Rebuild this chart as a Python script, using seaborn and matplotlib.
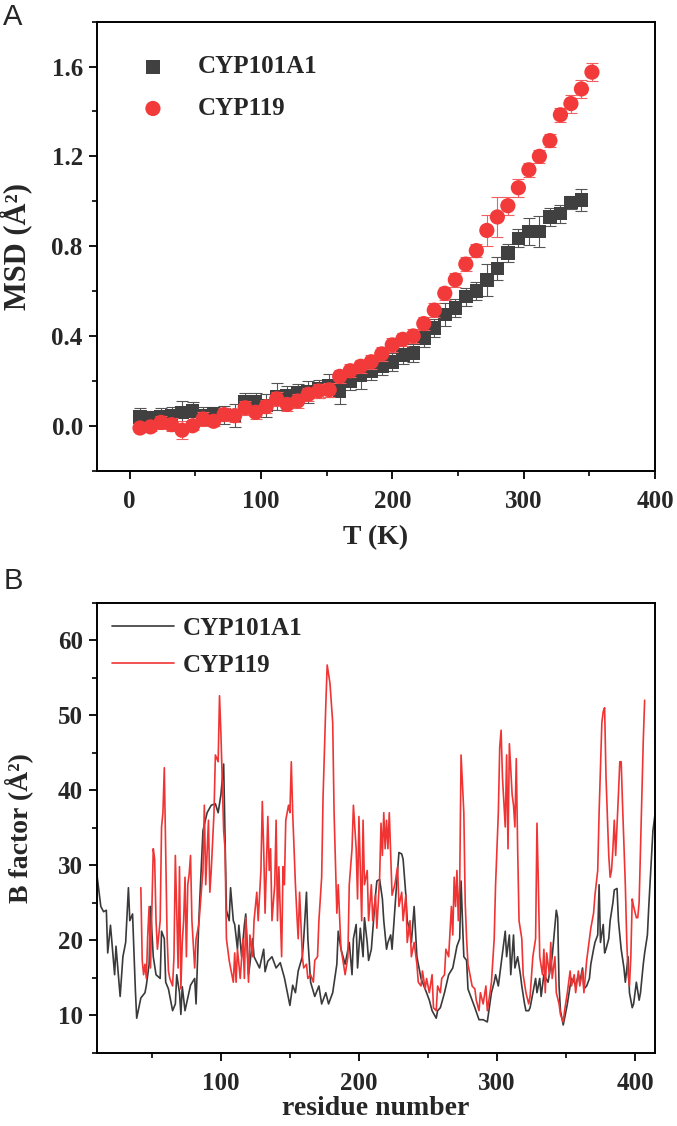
import matplotlib
matplotlib.use("Agg")
import matplotlib.pyplot as plt
from matplotlib.ticker import MultipleLocator, FormatStrFormatter
import seaborn as sns

# ----------- Panel A : MSD vs temperature ------------
temp_101 = [8, 16, 24, 32, 40, 48, 56, 64, 72, 80, 88, 96, 104, 112, 120, 128, 136, 144,
            152, 160, 168, 176, 184, 192, 200, 208, 216, 224, 232, 240, 248, 256, 264,
            272, 280, 288, 296, 304, 312, 320, 328, 336, 344]
msd_101 = [0.04, 0.035, 0.04, 0.045, 0.06, 0.065, 0.045, 0.055, 0.05, 0.045, 0.105, 0.105,
           0.09, 0.13, 0.135, 0.145, 0.15, 0.165, 0.18, 0.155, 0.20, 0.225, 0.245, 0.265,
           0.285, 0.315, 0.325, 0.39, 0.435, 0.495, 0.525, 0.575, 0.60, 0.65, 0.70, 0.77,
           0.835, 0.865, 0.865, 0.93, 0.945, 0.995, 1.005]
err_101 = [0.04, 0.03, 0.04, 0.04, 0.05, 0.04, 0.04, 0.03, 0.04, 0.05, 0.04, 0.04,
           0.05, 0.06, 0.04, 0.04, 0.05, 0.04, 0.05, 0.06, 0.04, 0.06, 0.04, 0.04,
           0.04, 0.04, 0.04, 0.04, 0.04, 0.05, 0.04, 0.04, 0.04, 0.07, 0.05, 0.04,
           0.04, 0.06, 0.07, 0.04, 0.04, 0.03, 0.05]

temp_119 = [8, 16, 24, 32, 40, 48, 56, 64, 72, 80, 88, 96, 104, 112, 120, 128, 136, 144,
            152, 160, 168, 176, 184, 192, 200, 208, 216, 224, 232, 240, 248, 256, 264,
            272, 280, 288, 296, 304, 312, 320, 328, 336, 344, 352]
msd_119 = [-0.01, -0.005, 0.015, 0.005, -0.02, 0.0, 0.03, 0.02, 0.05, 0.045, 0.08, 0.06,
           0.085, 0.12, 0.095, 0.11, 0.14, 0.155, 0.16, 0.22, 0.245, 0.265, 0.285, 0.32,
           0.36, 0.385, 0.40, 0.455, 0.515, 0.59, 0.65, 0.72, 0.78, 0.87, 0.93, 0.98,
           1.06, 1.14, 1.20, 1.27, 1.385, 1.435, 1.50, 1.575]
err_119 = [0.02, 0.02, 0.03, 0.03, 0.04, 0.02, 0.03, 0.02, 0.03, 0.03, 0.03, 0.03,
           0.03, 0.03, 0.03, 0.03, 0.03, 0.03, 0.03, 0.03, 0.03, 0.03, 0.03, 0.03,
           0.03, 0.03, 0.03, 0.03, 0.03, 0.03, 0.03, 0.03, 0.03, 0.07, 0.09, 0.04,
           0.04, 0.03, 0.03, 0.03, 0.03, 0.04, 0.04, 0.04]

# ----------- Panel B : B factor per residue ------------
res_101 = [9, 10, 13, 15, 17, 18, 20, 23, 24, 27,
           29, 31, 33, 34, 36, 38, 39, 42, 45, 46,
           48, 49, 51, 53, 56, 57, 59, 60, 62, 65,
           67, 68, 70, 71, 72, 74, 76, 78, 81, 82,
           84, 87, 90, 93, 96, 98, 100, 102, 104, 106,
           107, 109, 110, 112, 113, 115, 117, 118, 120, 121,
           123, 124, 128, 131, 132, 134, 137, 140, 143, 146,
           150, 152, 154, 156, 159, 160, 162, 163, 165, 168,
           171, 173, 176, 178, 181, 184, 185, 187, 190, 193,
           195, 196, 198, 199, 201, 203, 204, 206, 207, 209,
           212, 213, 215, 217, 218, 220, 221, 223, 224, 228,
           229, 231, 232, 234, 235, 237, 238, 240, 242, 245,
           248, 249, 251, 253, 256, 257, 259, 262, 265, 268,
           271, 273, 274, 275, 276, 278, 279, 281, 284, 287,
           290, 293, 296, 298, 299, 301, 303, 304, 306, 307,
           309, 310, 312, 313, 315, 317, 318, 320, 321, 323,
           324, 328, 329, 331, 332, 334, 337, 340, 343, 344,
           345, 346, 348, 349, 351, 353, 354, 356, 357, 359,
           360, 362, 363, 365, 367, 368, 370, 371, 373, 374,
           375, 377, 378, 379, 381, 382, 384, 385, 387, 388,
           390, 392, 393, 395, 396, 398, 399, 401, 403, 404,
           406, 407, 409, 410, 412, 413, 415]
bf_101 = [33.0, 29.0, 24.5, 23.8, 24.0, 18.3, 22.0, 15.4, 19.2, 12.5,
          17.8, 19.7, 27.0, 22.6, 23.5, 13.5, 9.6, 12.3, 13.0, 14.0,
          16.8, 24.5, 17.8, 15.4, 14.9, 21.2, 20.2, 14.4, 13.5, 10.6,
          11.5, 15.4, 13.0, 10.1, 13.8, 10.6, 12.3, 14.0, 14.9, 11.5,
          22.6, 34.6, 37.0, 38.0, 38.2, 37.0, 39.4, 43.5, 24.0, 22.6,
          27.0, 22.6, 22.1, 18.8, 22.0, 17.8, 22.0, 23.5, 15.4, 16.8,
          20.2, 17.8, 16.3, 18.8, 15.8, 17.2, 17.8, 16.3, 17.0, 15.0,
          11.3, 14.0, 13.0, 15.9, 17.8, 20.2, 26.4, 20.2, 14.4, 12.5,
          13.9, 11.5, 13.0, 11.5, 13.0, 16.8, 21.2, 18.8, 16.8, 19.7,
          15.4, 20.2, 22.1, 16.3, 21.6, 17.8, 23.0, 19.7, 17.3, 18.8,
          26.0, 27.9, 28.1, 25.5, 22.6, 18.8, 19.7, 20.7, 18.8, 29.3,
          31.7, 31.5, 30.8, 26.0, 22.6, 21.2, 19.7, 24.5, 17.8, 14.9,
          13.5, 13.0, 12.0, 10.6, 9.6, 10.6, 11.0, 13.0, 15.4, 16.3,
          19.2, 20.2, 27.9, 22.6, 17.8, 17.3, 13.5, 12.5, 11.0, 9.4,
          9.4, 9.1, 13.0, 14.4, 15.4, 13.9, 16.8, 18.3, 21.2, 17.8,
          20.7, 15.4, 20.7, 16.3, 17.8, 15.4, 13.9, 11.5, 10.6, 10.6,
          11.0, 14.9, 13.0, 14.9, 12.5, 15.4, 14.4, 17.8, 24.0, 23.0,
          13.9, 10.6, 8.7, 9.6, 11.5, 13.9, 14.9, 14.4, 13.9, 15.4,
          14.4, 16.3, 13.5, 13.9, 14.9, 16.8, 18.8, 19.7, 20.7, 27.4,
          19.7, 22.1, 18.3, 18.8, 20.2, 22.6, 25.0, 26.7, 26.9, 22.6,
          18.8, 16.3, 14.4, 17.8, 13.0, 11.0, 11.5, 14.4, 12.0, 13.0,
          16.8, 18.3, 20.7, 24.5, 31.3, 34.6, 37.5]

res_119 = [42, 43, 44, 45, 46, 47, 48, 49, 51, 52,
           53, 54, 56, 57, 58, 59, 60, 61, 62, 63,
           65, 66, 67, 69, 70, 71, 72, 73, 74, 75,
           76, 77, 78, 79, 81, 82, 84, 85, 87, 88,
           89, 91, 92, 93, 95, 96, 98, 99, 100, 102,
           103, 104, 106, 107, 109, 110, 111, 112, 114, 116,
           117, 118, 120, 121, 123, 124, 126, 127, 129, 130,
           131, 132, 134, 135, 136, 137, 139, 140, 141, 142,
           144, 145, 146, 147, 149, 150, 151, 152, 154, 155,
           156, 157, 159, 160, 162, 163, 165, 167, 168, 170,
           171, 173, 174, 176, 177, 179, 181, 182, 184, 185,
           187, 188, 190, 192, 193, 195, 196, 198, 199, 200,
           202, 203, 204, 206, 207, 209, 210, 212, 213, 215,
           216, 217, 218, 219, 220, 221, 222, 223, 224, 226,
           228, 229, 231, 232, 234, 235, 237, 238, 240, 242,
           243, 245, 246, 248, 249, 251, 253, 254, 256, 257,
           259, 260, 262, 263, 265, 267, 268, 269, 270, 271,
           272, 273, 274, 276, 277, 278, 279, 281, 282, 284,
           285, 287, 288, 290, 292, 293, 295, 296, 298, 299,
           301, 302, 303, 304, 306, 307, 308, 309, 311, 312,
           313, 314, 315, 316, 318, 319, 321, 323, 324, 326,
           328, 329, 330, 331, 333, 334, 335, 336, 338, 339,
           340, 342, 343, 345, 346, 348, 349, 351, 353, 354,
           356, 357, 359, 360, 362, 363, 365, 367, 368, 370,
           371, 373, 374, 376, 377, 378, 379, 381, 382, 383,
           384, 385, 386, 388, 389, 390, 391, 393, 394, 395,
           396, 397, 398, 399, 401, 402, 403, 404, 406, 407]
bf_119 = [27.0, 17.3, 15.4, 16.8, 14.9, 20.7, 24.5, 16.3, 32.2, 30.8,
          22.6, 18.8, 22.6, 35.1, 37.0, 43.0, 32.2, 20.7, 15.9, 14.9,
          13.9, 17.8, 31.3, 16.3, 29.8, 13.5, 19.7, 22.6, 28.4, 17.8,
          27.4, 28.8, 31.3, 22.6, 16.3, 20.2, 22.1, 24.5, 29.3, 38.0,
          27.4, 36.0, 26.4, 29.3, 37.0, 44.7, 43.8, 52.6, 47.6, 34.6,
          32.2, 20.2, 17.3, 16.3, 14.4, 18.3, 14.4, 18.8, 14.9, 20.2,
          14.9, 23.0, 14.4, 20.7, 17.8, 22.6, 26.4, 22.6, 29.3, 38.5,
          32.2, 23.6, 36.5, 29.3, 32.2, 22.6, 27.4, 36.0, 22.6, 29.8,
          17.8, 29.8, 27.4, 36.0, 38.0, 37.0, 43.8, 37.0, 27.4, 23.6,
          20.2, 26.4, 17.8, 16.3, 16.8, 14.9, 15.4, 14.4, 17.3, 17.8,
          22.6, 28.4, 39.0, 51.4, 56.7, 54.3, 49.0, 37.0, 23.6, 27.4,
          18.8, 17.8, 15.4, 17.8, 27.4, 32.2, 38.0, 32.2, 25.5, 36.5,
          22.6, 36.0, 27.4, 29.3, 22.6, 27.4, 22.6, 26.0, 21.6, 28.4,
          35.6, 31.3, 37.0, 32.2, 36.0, 32.2, 37.0, 31.3, 26.0, 27.4,
          29.8, 24.5, 26.4, 22.6, 26.0, 19.7, 22.6, 17.8, 19.7, 16.8,
          14.4, 13.9, 15.9, 13.5, 14.9, 13.0, 15.4, 11.0, 10.6, 13.9,
          13.0, 14.9, 15.4, 18.8, 17.8, 24.5, 20.7, 28.4, 24.5, 29.3,
          22.6, 27.4, 44.7, 37.0, 25.0, 20.2, 16.8, 14.9, 13.9, 13.5,
          12.0, 10.6, 13.0, 11.5, 13.9, 10.6, 13.0, 14.4, 20.2, 27.4,
          37.0, 45.7, 48.0, 41.7, 35.1, 44.7, 32.2, 46.2, 39.4, 38.0,
          35.1, 44.2, 32.2, 22.6, 20.2, 15.4, 13.0, 11.5, 12.5, 17.8,
          20.2, 35.6, 27.4, 17.8, 15.4, 18.8, 13.0, 18.3, 15.4, 19.7,
          14.9, 17.8, 13.0, 11.5, 10.1, 9.1, 10.6, 13.0, 15.9, 13.9,
          15.4, 13.0, 15.9, 13.9, 15.9, 13.0, 17.3, 20.2, 21.6, 23.6,
          26.0, 29.3, 37.0, 49.0, 50.5, 51.0, 41.8, 31.3, 28.4, 29.3,
          32.2, 36.0, 31.3, 39.4, 43.8, 43.8, 38.0, 27.4, 20.2, 15.4,
          13.9, 17.8, 25.5, 24.5, 23.0, 23.0, 25.0, 32.2, 46.6, 52.0]

labels = ['CYP101A1', 'CYP119']
grey = '#404040'
red = '#f23a3a'

sns.set_theme(style='ticks')
plt.rcParams['font.family'] = ['Liberation Serif', 'DejaVu Serif']
plt.rcParams['font.weight'] = 'bold'

fig = plt.figure(figsize=(6.77, 11.26), dpi=100)
axA = fig.add_axes([0.1428, 0.5820, 0.8247, 0.3988])
axB = fig.add_axes([0.1428, 0.0651, 0.8247, 0.3996])

# ----------- panel A -------------
axA.errorbar(temp_101, msd_101, yerr=err_101, fmt='none', ecolor='#555555',
             elinewidth=0.8, capsize=4, capthick=0.8, zorder=2)
sns.scatterplot(x=temp_101, y=msd_101, ax=axA, marker='s', s=95, color=grey,
                edgecolor='none', label=labels[0], zorder=3)
axA.errorbar(temp_119, msd_119, yerr=err_119, fmt='none', ecolor='#f06060',
             elinewidth=0.8, capsize=4, capthick=0.8, zorder=4)
sns.scatterplot(x=temp_119, y=msd_119, ax=axA, marker='o', s=120, color=red,
                edgecolor='none', label=labels[1], zorder=5)

axA.set_xlim(-25, 400)
axA.set_ylim(-0.2, 1.8)
axA.xaxis.set_major_locator(MultipleLocator(100))
axA.xaxis.set_minor_locator(MultipleLocator(50))
axA.yaxis.set_major_locator(MultipleLocator(0.4))
axA.yaxis.set_minor_locator(MultipleLocator(0.2))
axA.yaxis.set_major_formatter(FormatStrFormatter('%.1f'))
axA.set_xlabel('T (K)', fontsize=20, fontweight='bold')
axA.set_ylabel('MSD (Å²)', fontsize=22, fontweight='bold')
axA.xaxis.set_label_coords(0.5, -0.121)
axA.yaxis.set_label_coords(-0.116, 0.5)
axA.legend(loc='upper left', bbox_to_anchor=(0.056, 0.925), frameon=False,
           borderaxespad=0, borderpad=0, handletextpad=0.8, labelspacing=0.75,
           prop={'size': 18, 'weight': 'bold'})

# ----------- panel B -------------
sns.lineplot(x=res_101, y=bf_101, ax=axB, color='#3a3a3a', linewidth=1.2,
             label=labels[0])
sns.lineplot(x=res_119, y=bf_119, ax=axB, color='#f03434', linewidth=1.2,
             label=labels[1])
axB.set_xlim(10, 414.5)
axB.set_ylim(5, 65)
axB.xaxis.set_major_locator(MultipleLocator(100))
axB.xaxis.set_minor_locator(MultipleLocator(50))
axB.yaxis.set_major_locator(MultipleLocator(10))
axB.yaxis.set_minor_locator(MultipleLocator(5))
axB.set_xlabel('residue number', fontsize=20, fontweight='bold')
axB.set_ylabel('B factor (Å²)', fontsize=20, fontweight='bold')
axB.xaxis.set_label_coords(0.5, -0.097)
axB.yaxis.set_label_coords(-0.114, 0.5)
axB.legend(loc='upper left', bbox_to_anchor=(0.027, 0.968), frameon=False,
           borderaxespad=0, borderpad=0, handlelength=2.5, handletextpad=0.35,
           labelspacing=0.55, prop={'size': 18, 'weight': 'bold'})

for ax in (axA, axB):
    for sp in ax.spines.values():
        sp.set_visible(True)
        sp.set_linewidth(1.4)
        sp.set_color('black')
    ax.tick_params(which='major', direction='out', length=6, width=1.3,
                   labelsize=18, pad=8, color='black')
    ax.tick_params(which='minor', direction='out', length=3.5, width=1.2,
                   color='black')
    ax.tick_params(axis='y', which='major', pad=4)
    for lbl in ax.get_xticklabels() + ax.get_yticklabels():
        lbl.set_fontweight('bold')

fig.text(0.005, 0.997, 'A', fontsize=21, fontweight='normal', va='top', ha='left',
         family=['Liberation Sans', 'DejaVu Sans'])
fig.text(0.005, 0.4964, 'B', fontsize=21, fontweight='normal', va='top', ha='left',
         family=['Liberation Sans', 'DejaVu Sans'])

fig.savefig('out.png', dpi=100, facecolor='white')
